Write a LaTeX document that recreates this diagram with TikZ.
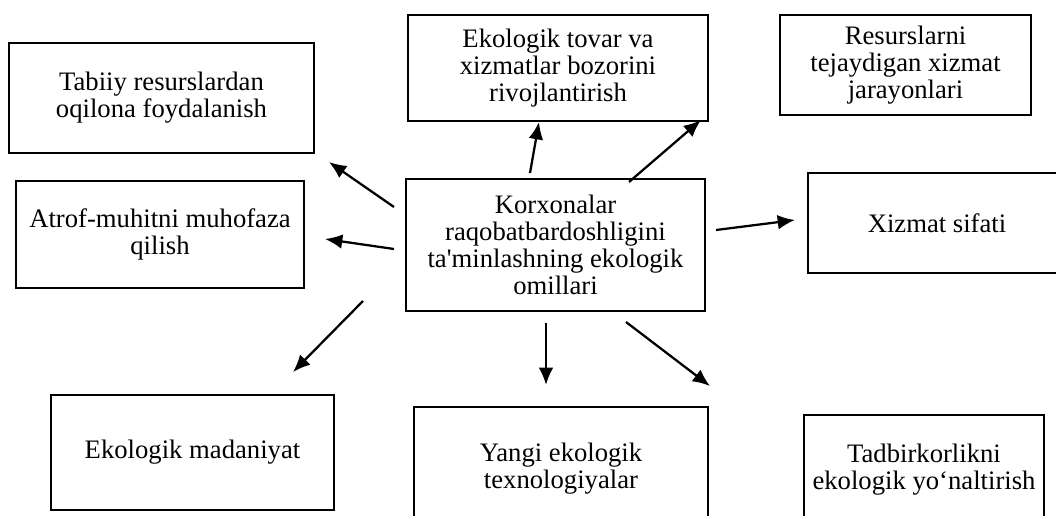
\documentclass[tikz,border=0pt]{standalone}
\usepackage{fontspec}
\setmainfont{Liberation Serif}
\usetikzlibrary{arrows.meta}

\begin{document}
\begin{tikzpicture}[x=0.75pt,y=-0.75pt,
    box/.style={draw,line width=1.4pt,align=center,inner sep=0pt,
      font=\fontsize{20}{20.3}\selectfont},
    arr/.style={line width=1.7pt,-{Latex[length=13pt,width=11pt]}}]
  \useasboundingbox (0,0) rectangle (1056,515);
      \node[box,minimum width=228.75pt,minimum height=82.5pt] (tabiiy) at (161.5,98)
        {Tabiiy resurslardan\\oqilona foydalanish};
      \node[box,minimum width=216pt,minimum height=80.25pt] (atrof) at (160,234.5)
        {Atrof-muhitni muhofaza\\qilish};
      \node[box,minimum width=225pt,minimum height=79.5pt] (tovar) at (558,68)
        {Ekologik tovar va\\xizmatlar bozorini\\rivojlantirish};
      \node[box,minimum width=188.25pt,minimum height=75pt] (resurs) at (905.5,65)
        {Resurslarni\\tejaydigan xizmat\\jarayonlari};
      \node[box,minimum width=224.25pt,minimum height=99pt] (markaz) at (555.5,245)
        {Korxonalar\\raqobatbardoshligini\\ta\textquotesingle minlashning ekologik\\omillari};
      \node[box,minimum width=193.5pt,minimum height=75pt] (xizmat) at (937,223)
        {Xizmat sifati};
      \node[box,minimum width=212.25pt,minimum height=86.25pt] (madaniyat) at (192.5,452.5)
        {Ekologik madaniyat};
      \node[box,minimum width=220.5pt,minimum height=93pt] (yangi) at (561,469)
        {Yangi ekologik\\texnologiyalar};
      \node[box,minimum width=180pt,minimum height=82.5pt] (tadbir) at (924,470)
        {Tadbirkorlikni\\ekologik yo‘naltirish};

      \coordinate (s1) at (394,207);  \coordinate (e1) at (329,162);
      \coordinate (s2) at (394,249);  \coordinate (e2) at (325,239);
      \coordinate (s3) at (530,173);  \coordinate (e3) at (539,122);
      \coordinate (s4) at (629,182);  \coordinate (e4) at (701,120);
      \coordinate (s5) at (716,230);  \coordinate (e5) at (795,220);
      \coordinate (s6) at (363,301);  \coordinate (e6) at (293,372);
      \coordinate (s7) at (546,323);  \coordinate (e7) at (546,385);
      \coordinate (s8) at (626,322);  \coordinate (e8) at (710,386);

  \draw[arr] (s1)--(e1);
  \draw[arr] (s2)--(e2);
  \draw[arr] (s3)--(e3);
  \draw[arr] (s4)--(e4);
  \draw[arr] (s5)--(e5);
  \draw[arr] (s6)--(e6);
  \draw[arr] (s7)--(e7);
  \draw[arr] (s8)--(e8);
\end{tikzpicture}
\end{document}
